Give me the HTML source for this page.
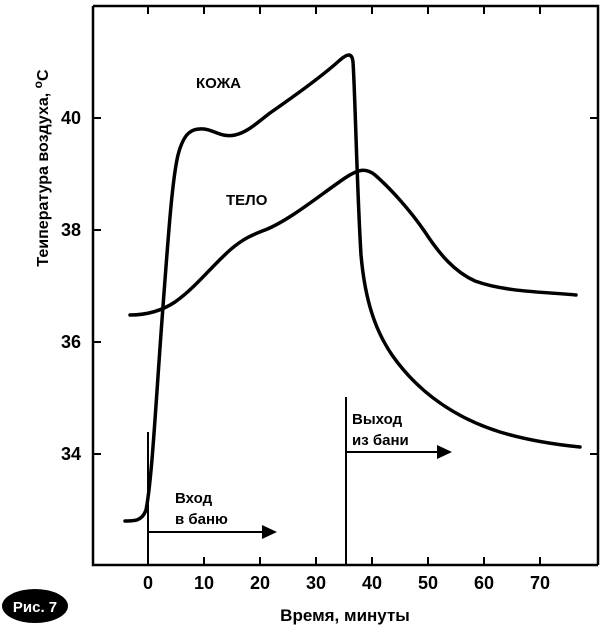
<!DOCTYPE html>
<html><head><meta charset="utf-8"><style>
html,body{margin:0;padding:0;background:#fff;}
svg{display:block;font-family:"Liberation Sans","DejaVu Sans",sans-serif;}
</style></head><body>
<svg width="600" height="633" viewBox="0 0 600 633" xmlns="http://www.w3.org/2000/svg">
<rect width="600" height="633" fill="#fff"/>
<g stroke="#000" stroke-width="2.5" fill="none">
<path d="M93 6 V565 H598 M93 6 H598 V565"/>
</g>
<g stroke="#000" stroke-width="2">
<path d="M148 565v-8M204 565v-8M260 565v-8M316 565v-8M372 565v-8M428 565v-8M484 565v-8M540 565v-8"/>
<path d="M148 6v8M204 6v8M260 6v8M316 6v8M372 6v8M428 6v8M484 6v8M540 6v8"/>
<path d="M93 118h8M93 230h8M93 342h8M93 454h8M598 118h-8M598 454h-8"/>
</g>
<g font-weight="bold" font-size="18" text-anchor="middle" fill="#000">
<text x="148" y="589">0</text><text x="204" y="589">10</text><text x="260" y="589">20</text><text x="316" y="589">30</text><text x="372" y="589">40</text><text x="428" y="589">50</text><text x="484" y="589">60</text><text x="540" y="589">70</text>
</g>
<g font-weight="bold" font-size="18" text-anchor="end" fill="#000">
<text x="81" y="124">40</text><text x="81" y="236">38</text><text x="81" y="348">36</text><text x="81" y="460">34</text>
</g>
<text x="0" y="0" transform="translate(48,168) rotate(-90)" font-weight="bold" font-size="16" text-anchor="middle">Теипература воздуха, <tspan dy="-6" font-size="12">o</tspan><tspan dy="6">C</tspan></text>
<text x="345" y="621" font-weight="bold" font-size="17" text-anchor="middle">Время, минуты</text>
<ellipse cx="35" cy="606" rx="33" ry="17" fill="#000"/>
<text x="35" y="612" font-weight="bold" font-size="15" fill="#fff" text-anchor="middle">Рис. 7</text>
<g stroke="#000" stroke-width="3.5" fill="none" stroke-linejoin="round" stroke-linecap="round">
<path d="M125 521 C135 521 142 521 146 510 C152 480 156 400 162 320 C168 240 172 180 178 155 C184 132 192 128 204 129 C214 130 222 138 235 135 C248 132 258 122 270 113 C290 99 320 78 340 60 C347 54 352 52 353 62 C355 90 357 190 361 255 C365 300 375 330 392 355 C418 392 455 418 500 432 C530 441 560 445 580 447"/>
<path d="M130 315 C145 315 160 312 175 302 C195 288 210 268 230 250 C245 237 255 234 265 230 C290 220 320 195 345 178 C357 170 365 167 375 175 C390 188 410 210 425 232 C440 255 455 272 475 281 C505 292 545 292 576 295"/>
</g>
<g stroke="#000" stroke-width="2" fill="none">
<path d="M148 432V565M148 532H265M346 397V565M346 452H440"/>
</g>
<path d="M277 532 L262 525 L262 539 Z M452 452 L437 445 L437 459 Z" fill="#000"/>
<g font-weight="bold" font-size="15" fill="#000">
<text x="196" y="88">КОЖА</text>
<text x="226" y="205">ТЕЛО</text>
<text x="175" y="503">Вход</text><text x="175" y="524">в баню</text>
<text x="352" y="424">Выход</text><text x="352" y="445">из бани</text>
</g>
</svg>
</body></html>
